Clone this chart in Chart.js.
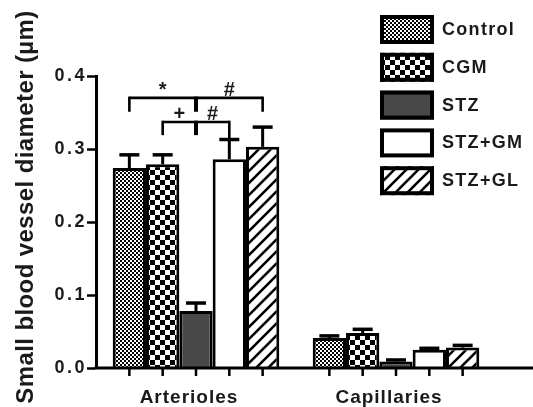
<!DOCTYPE html>
<html>
<head>
<meta charset="utf-8">
<script src="https://cdn.jsdelivr.net/npm/chart.js@4/dist/chart.umd.min.js"></script>
<style>
  html, body { margin: 0; padding: 0; background: #fff; }
  canvas { display: block; }
</style>
</head>
<body>
<canvas id="chart" width="533" height="407"></canvas>
<script>
// Vessel diameter (µm), mean and SEM per group
const categories = ['Arterioles', 'Capillaries'];
const seriesNames = ['Control', 'CGM', 'STZ', 'STZ+GM', 'STZ+GL'];
const controlMean = [0.274, 0.041];
const cgmMean     = [0.279, 0.048];
const stzMean     = [0.078, 0.009];
const stzGmMean   = [0.286, 0.025];
const stzGlMean   = [0.303, 0.028];
const controlSem  = [0.018, 0.003];
const cgmSem      = [0.013, 0.005];
const stzSem      = [0.011, 0.002];
const stzGmSem    = [0.027, 0.002];
const stzGlSem    = [0.027, 0.003];
const yTicks = [0.0, 0.1, 0.2, 0.3, 0.4];
const yTitle = 'Small blood vessel diameter (µm)';

// Significance brackets over the arteriole group (series indices, bracket level, end drops)
const brackets = [
  { from: 0, mid: 2, to: 4, level: 0.370, ends: [0.351, 0.351, 0.351], marks: ['*', '#'] },
  { from: 1, mid: 2, to: 3, level: 0.337, ends: [0.319, 0.319, 0.313], marks: ['+', '#'] }
];

const FONT = "'Liberation Sans', Arial, Helvetica, sans-serif";
const INK = '#1a1a1a';

// ---- fill patterns ----
function makeTile(w, h, paint) {
  const c = document.createElement('canvas');
  c.width = w; c.height = h;
  const g = c.getContext('2d');
  g.fillStyle = '#fff';
  g.fillRect(0, 0, w, h);
  paint(g);
  return document.createElement('canvas').getContext('2d').createPattern(c, 'repeat');
}
const fineChecker = makeTile(4, 4, g => {
  g.fillStyle = '#000';
  g.fillRect(0, 0, 2, 2);
  g.fillRect(2, 2, 2, 2);
});
const coarseChecker = makeTile(10, 10, g => {
  g.fillStyle = '#000';
  g.fillRect(0, 0, 5, 5);
  g.fillRect(5, 5, 5, 5);
});
const hatch = makeTile(12, 12, g => {
  g.strokeStyle = '#000';
  g.lineWidth = 2.6;
  [[0, 12, 12, 0], [-6, 6, 6, -6], [6, 18, 18, 6]].forEach(([a, b, c, d]) => {
    g.beginPath(); g.moveTo(a, b); g.lineTo(c, d); g.stroke();
  });
});

const means = [controlMean, cgmMean, stzMean, stzGmMean, stzGlMean];
const sems = [controlSem, cgmSem, stzSem, stzGmSem, stzGlSem];
const fills = [fineChecker, coarseChecker, '#484848', '#ffffff', hatch];

const datasets = seriesNames.map((name, i) => ({
  label: name,
  data: means[i],
  sem: sems[i],
  backgroundColor: fills[i],
  borderColor: '#000',
  borderWidth: 3,
  borderSkipped: 'bottom',
  barPercentage: 1.0,
  categoryPercentage: 0.833
}));

// ---- drawing helpers ----
const decorations = {
  id: 'decorations',
  beforeDraw(chart) {
    chart.ctx.letterSpacing = '2.5px';
  },
  afterDatasetsDraw(chart) {
    const ctx = chart.ctx;
    const y = chart.scales.y;
    ctx.save();
    ctx.strokeStyle = '#000';
    // error bars (upper half only)
    chart.data.datasets.forEach((ds, di) => {
      const meta = chart.getDatasetMeta(di);
      meta.data.forEach((bar, k) => {
        const top = y.getPixelForValue(ds.data[k] + ds.sem[k]);
        ctx.lineWidth = 3;
        ctx.beginPath();
        ctx.moveTo(bar.x, bar.y);
        ctx.lineTo(bar.x, top);
        ctx.stroke();
        ctx.lineWidth = 3.5;
        ctx.beginPath();
        ctx.moveTo(bar.x - 10, top);
        ctx.lineTo(bar.x + 10, top);
        ctx.stroke();
      });
    });
    ctx.restore();
  },
  afterDraw(chart) {
    const ctx = chart.ctx;
    const area = chart.chartArea;
    const x = chart.scales.x;
    const y = chart.scales.y;
    ctx.save();
    ctx.strokeStyle = '#000';

    // x axis line, running to the right edge
    ctx.lineWidth = 3;
    ctx.beginPath();
    ctx.moveTo(area.left - 1.5, area.bottom);
    ctx.lineTo(chart.width, area.bottom);
    ctx.stroke();

    // tick marks under every bar
    ctx.lineWidth = 2.5;
    chart.data.datasets.forEach((ds, di) => {
      chart.getDatasetMeta(di).data.forEach(bar => {
        ctx.beginPath();
        ctx.moveTo(bar.x, area.bottom);
        ctx.lineTo(bar.x, area.bottom + 8);
        ctx.stroke();
      });
    });

    // category labels
    ctx.fillStyle = INK;
    ctx.font = `bold 19px ${FONT}`;
    ctx.letterSpacing = '1px';
    ctx.textAlign = 'center';
    ctx.textBaseline = 'alphabetic';
    categories.forEach((c, i) => {
      ctx.fillText(c, x.getPixelForValue(i) - 7, 403);
    });

    // significance brackets
    const barX = i => chart.getDatasetMeta(i).data[0].x;
    brackets.forEach(b => {
      const ly = y.getPixelForValue(b.level);
      const xs = [barX(b.from), barX(b.mid), barX(b.to)];
      ctx.lineWidth = 2.6;
      ctx.beginPath();
      ctx.moveTo(xs[0], ly);
      ctx.lineTo(xs[2], ly);
      ctx.stroke();
      xs.forEach((px, j) => {
        ctx.lineWidth = j === 1 ? 4 : 2.6;
        ctx.beginPath();
        ctx.moveTo(px, ly - 1.3);
        ctx.lineTo(px, y.getPixelForValue(b.ends[j]));
        ctx.stroke();
      });
      ctx.font = `bold 20px ${FONT}`;
      ctx.letterSpacing = '0px';
      ctx.textAlign = 'center';
      ctx.textBaseline = 'alphabetic';
      ctx.fillText(b.marks[0], (xs[0] + xs[1]) / 2, ly - 1.5);
      ctx.fillText(b.marks[1], (xs[1] + xs[2]) / 2, ly - 1.5);
    });

    // y axis title
    ctx.save();
    ctx.translate(26, 207);
    ctx.rotate(-Math.PI / 2);
    ctx.font = `bold 24px ${FONT}`;
    ctx.letterSpacing = '0.4px';
    ctx.textAlign = 'center';
    ctx.textBaseline = 'middle';
    ctx.fillText(yTitle, 0, 0);
    ctx.restore();

    // legend
    chart.data.datasets.forEach((ds, i) => {
      const top = 15 + i * 37.8;
      ctx.fillStyle = ds.backgroundColor;
      ctx.fillRect(380, top, 54, 29);
      ctx.lineWidth = 4;
      ctx.strokeStyle = '#000';
      ctx.strokeRect(382, top + 2, 50, 25);
      ctx.fillStyle = INK;
      ctx.font = `bold 18px ${FONT}`;
      ctx.letterSpacing = '1.3px';
      ctx.textAlign = 'left';
      ctx.textBaseline = 'middle';
      ctx.fillText(ds.label, 442, top + 15);
    });
    ctx.restore();
  }
};

new Chart(document.getElementById('chart'), {
  type: 'bar',
  data: { labels: categories, datasets },
  options: {
    responsive: false,
    animation: false,
    devicePixelRatio: 1,
    layout: { padding: { top: 76, right: 37, left: 0, bottom: 0 } },
    plugins: { legend: { display: false }, tooltip: { enabled: false } },
    scales: {
      x: {
        type: 'category',
        grid: { display: false },
        border: { display: false },
        ticks: { display: false },
        afterFit(s) { s.height = 39; }
      },
      y: {
        min: 0,
        max: 0.4,
        afterBuildTicks(s) { s.ticks = yTicks.map(v => ({ value: v })); },
        afterFit(s) { s.width = 96; },
        grid: {
          drawOnChartArea: false,
          drawTicks: true,
          tickLength: 9,
          tickColor: '#000',
          tickWidth: 2.5
        },
        border: { display: true, color: '#000', width: 3 },
        ticks: {
          padding: 0,
          color: INK,
          font: { family: FONT, size: 18, weight: 'bold' },
          callback: v => Number(v).toFixed(1)
        }
      }
    }
  },
  plugins: [decorations]
});
</script>
</body>
</html>
